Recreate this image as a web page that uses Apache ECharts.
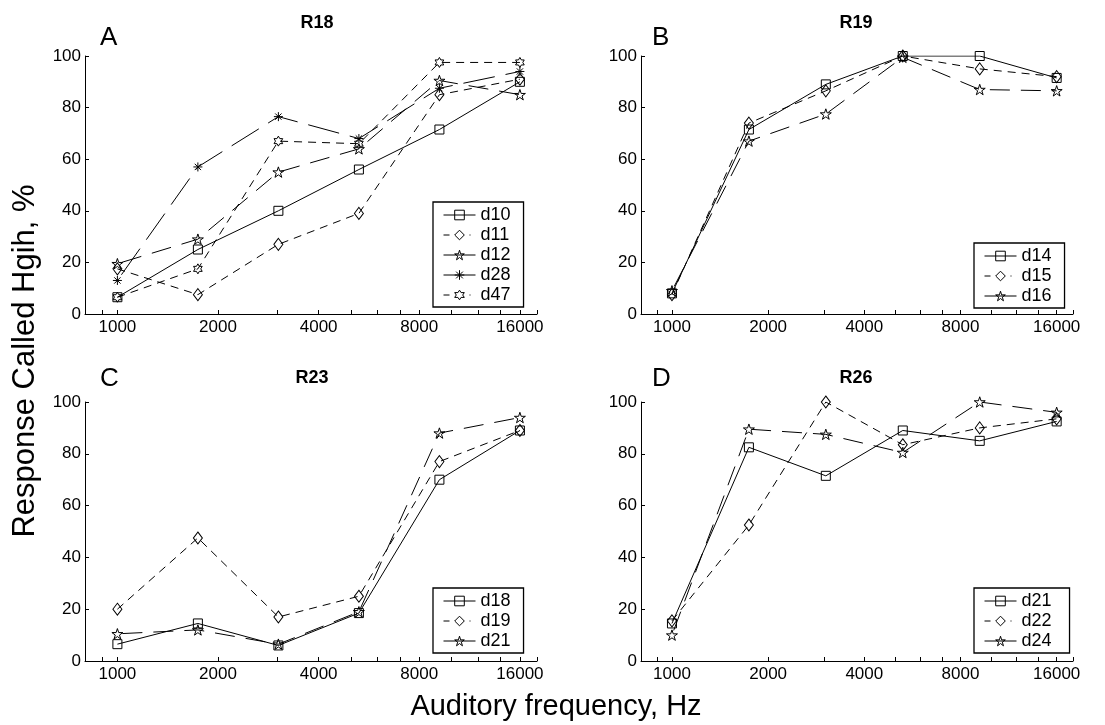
<!DOCTYPE html>
<html>
<head>
<meta charset="utf-8">
<script src="https://cdn.jsdelivr.net/npm/echarts@6/dist/echarts.min.js"></script>
<style>
html,body{margin:0;padding:0;background:#fff;}
#chart{width:1105px;height:725px;}
</style>
</head>
<body>
<div id="chart"></div>
<script>
// ---------------- data ----------------
const freqs = [1000, 1741, 3031, 5278, 9190, 16000];
const tickLabelFreqs = [1000, 2000, 4000, 8000, 16000];
const tickMarkFreqs = [900, 1000, 2000, 3000, 4000, 5000, 6000, 7000, 8000, 10000, 12000, 14000, 16000, 18000];
const xRange = [800, 18000];
const yTicks = [0, 20, 40, 60, 80, 100];

const panelTitles = ['R18', 'R19', 'R23', 'R26'];
const panelLetters = ['A', 'B', 'C', 'D'];

// Panel A (R18)
const A_d10 = [6.5, 25, 40, 56, 71.5, 90];
const A_d11 = [17.5, 7.5, 27, 39, 85, 91];
const A_d12 = [19.5, 29, 55, 64, 90.5, 85];
const A_d28 = [13, 57, 76.5, 68, 87.5, 94];
const A_d47 = [6.5, 17.5, 67, 66, 97.5, 97.5];
// Panel B (R19)
const B_d14 = [8, 71.5, 89, 100, 100, 91.5];
const B_d15 = [7.5, 74, 86.5, 100, 95, 92];
const B_d16 = [9, 67, 77.5, 99.5, 87, 86.5];
// Panel C (R23)
const C_d18 = [6.5, 14.5, 6, 18.5, 70, 89];
const C_d19 = [20, 47.5, 17, 25, 77, 89];
const C_d21 = [10.5, 12, 6.5, 19, 88, 94];
// Panel D (R26)
const D_d21 = [14.5, 82.5, 71.5, 89, 85, 92.5];
const D_d22 = [15.5, 52.5, 100, 83.5, 90, 93.5];
const D_d24 = [10, 89.5, 87.5, 80.5, 100, 96];

// ---------------- styles ----------------
const FONT = '"Liberation Sans", Arial, Helvetica, sans-serif';
const SYM = {
  square: 'rect',
  diamond: 'diamond',
  pentagram: 'path://M0,-10 L2.245,-3.09 L9.51,-3.09 L3.63,1.18 L5.88,8.09 L0,3.82 L-5.88,8.09 L-3.63,1.18 L-9.51,-3.09 L-2.245,-3.09 Z',
  hexagram: 'path://M0,-10 L2.887,-5 L8.66,-5 L5.77,0 L8.66,5 L2.887,5 L0,10 L-2.887,5 L-8.66,5 L-5.77,0 L-8.66,-5 L-2.887,-5 Z',
  asterisk: 'path://M0,-10 L0,10 M-10,0 L10,0 M-7,-7 L7,7 M-7,7 L7,-7'
};
const SIZE = { square: 9, diamond: [9, 12], pentagram: 11, hexagram: 10, asterisk: 9 };
const DASH = { solid: 'solid', dashdot: [8, 6], dashed: [20, 11], longdash: [32, 11] };
const DASH_OFFSET = { solid: 0, dashdot: 0, dashed: 26, longdash: 36 };
const LEGEND_DASH = { solid: 'solid', dashdot: [6, 20, 1, 10], dashed: 'solid', longdash: 'solid' };

// panel: grid geometry + series list (name, values, marker, line)
const panels = [
  { grid: { left: 85, top: 56, width: 452, height: 258 }, legend: { left: 433, top: 202 },
    series: [
      ['d10', A_d10, 'square', 'solid'],
      ['d11', A_d11, 'diamond', 'dashdot'],
      ['d12', A_d12, 'pentagram', 'dashed'],
      ['d28', A_d28, 'asterisk', 'longdash'],
      ['d47', A_d47, 'hexagram', 'dashdot']
    ] },
  { grid: { left: 641, top: 56, width: 432, height: 258 }, legend: { left: 974, top: 243 },
    series: [
      ['d14', B_d14, 'square', 'solid'],
      ['d15', B_d15, 'diamond', 'dashdot'],
      ['d16', B_d16, 'pentagram', 'dashed']
    ] },
  { grid: { left: 85, top: 402, width: 452, height: 259 }, legend: { left: 433, top: 588 },
    series: [
      ['d18', C_d18, 'square', 'solid'],
      ['d19', C_d19, 'diamond', 'dashdot'],
      ['d21', C_d21, 'pentagram', 'dashed']
    ] },
  { grid: { left: 641, top: 402, width: 432, height: 259 }, legend: { left: 974, top: 588 },
    series: [
      ['d21 ', D_d21, 'square', 'solid'],
      ['d22', D_d22, 'diamond', 'dashdot'],
      ['d24', D_d24, 'pentagram', 'dashed']
    ] }
];

const titlePos = [[317, 23], [856, 23], [312, 378], [856, 378]];
const letterPos = [[100, 38], [652, 38], [100, 379], [652, 379]];

const L2 = Math.log2;
const grids = [], xAxes = [], yAxes = [], seriesList = [], legends = [], graphics = [];

panels.forEach((p, i) => {
  grids.push(Object.assign({ containLabel: false }, p.grid));
  xAxes.push({
    type: 'value', gridIndex: i,
    min: L2(xRange[0]), max: L2(xRange[1]),
    axisLine: { show: true, onZero: false, lineStyle: { color: '#000', width: 1 } },
    axisTick: { show: true, inside: true, length: 4, customValues: tickMarkFreqs.map(L2), lineStyle: { color: '#000' } },
    axisLabel: { show: true, customValues: tickLabelFreqs.map(L2), margin: 5, color: '#000', fontSize: 17, fontFamily: FONT,
      formatter: v => String(Math.round(Math.pow(2, v))) },
    splitLine: { show: false }
  });
  yAxes.push({
    type: 'value', gridIndex: i, min: 0, max: 100, interval: 20,
    axisLine: { show: true, lineStyle: { color: '#000', width: 1 } },
    axisTick: { show: true, inside: true, length: 4, lineStyle: { color: '#000' } },
    axisLabel: { margin: 4, color: '#000', fontSize: 17, fontFamily: FONT },
    splitLine: { show: false }
  });
  p.series.forEach(([name, vals, marker, dash]) => {
    seriesList.push({
      type: 'line', name, xAxisIndex: i, yAxisIndex: i,
      data: freqs.map((f, k) => [L2(f), vals[k]]),
      symbol: SYM[marker], symbolSize: SIZE[marker], symbolKeepAspect: true,
      itemStyle: { color: 'rgba(255,255,255,0)', borderColor: '#000', borderWidth: 1 },
      lineStyle: { color: '#000', width: 1, type: DASH[dash], dashOffset: DASH_OFFSET[dash] },
      emphasis: { disabled: true },
      animation: false, silent: true, z: 3
    });
  });
  legends.push({
    orient: 'vertical', left: p.legend.left, top: p.legend.top,
    data: p.series.map(s => ({ name: s[0], lineStyle: { type: LEGEND_DASH[s[3]], dashOffset: 0, width: 1, color: '#000' } })),
    padding: [3, 13, 2, 10],
    itemWidth: 32, itemHeight: 12, itemGap: 0, itemTextGap: 12,
    borderColor: '#000', borderWidth: 1.3, backgroundColor: '#fff',
    textStyle: { color: '#000', fontSize: 18, fontFamily: FONT, lineHeight: 20 },
    itemStyle: { borderWidth: 1 },
    lineStyle: { width: 1 },
    selectedMode: false
  });
  graphics.push({ type: 'text', x: titlePos[i][0], y: titlePos[i][1],
    style: { text: panelTitles[i], font: 'bold 18px ' + FONT, fill: '#000', textAlign: 'center', textVerticalAlign: 'middle' } });
  graphics.push({ type: 'text', x: letterPos[i][0], y: letterPos[i][1],
    style: { text: panelLetters[i], font: '26px ' + FONT, fill: '#000', textAlign: 'left', textVerticalAlign: 'middle' } });
});

graphics.push({ type: 'text', x: 556, y: 707,
  style: { text: 'Auditory frequency, Hz', font: '29px ' + FONT, fill: '#000', textAlign: 'center', textVerticalAlign: 'middle' } });
graphics.push({ type: 'text', x: 25, y: 361, rotation: Math.PI / 2,
  style: { text: 'Response Called Hgih, %', font: '31px ' + FONT, fill: '#000', textAlign: 'center', textVerticalAlign: 'middle' } });

const chart = echarts.init(document.getElementById('chart'), null, { renderer: 'canvas' });
chart.setOption({
  animation: false,
  backgroundColor: '#fff',
  grid: grids, xAxis: xAxes, yAxis: yAxes,
  legend: legends,
  series: seriesList,
  graphic: graphics
});
</script>
</body>
</html>
